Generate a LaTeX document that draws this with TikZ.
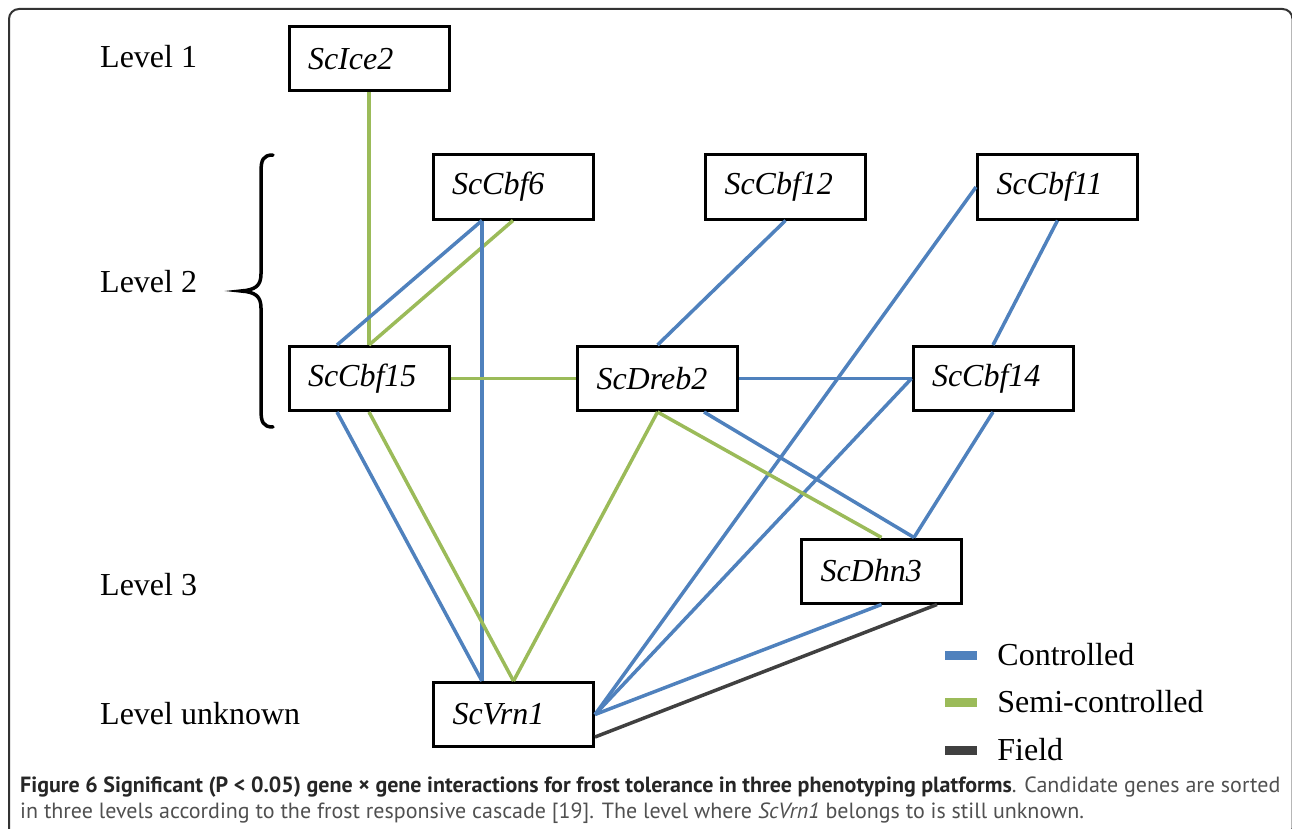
\documentclass[tikz,border=0pt]{standalone}
\usepackage{fontspec}
\setmainfont{Liberation Serif}
\newfontfamily\capfont{PT Sans}
\usetikzlibrary{positioning}
\usetikzlibrary{calc}
\definecolor{ctrlblue}{RGB}{79,129,189}
\definecolor{semigreen}{RGB}{155,187,89}
\definecolor{fieldgray}{RGB}{64,64,64}
\definecolor{capgray}{RGB}{80,80,80}

\begin{document}
\begin{tikzpicture}[x=1pt,y=-1pt,
	gene/.style={rectangle,draw,line width=3pt,minimum width=160pt,minimum height=64pt,text width=122pt,inner xsep=19pt,align=left,font=\fontsize{32}{38}\selectfont\itshape},
	lvl/.style={anchor=west,inner sep=0pt,font=\fontsize{32}{38}\selectfont},
	ctrl/.style={draw=ctrlblue,line width=3.5pt},
	semi/.style={draw=semigreen,line width=3.5pt},
	fld/.style={draw=fieldgray,line width=3.5pt},
	swatch/.style={rectangle,inner sep=0pt,minimum width=32pt,minimum height=9pt},
	legtext/.style={inner sep=0pt,font=\fontsize{32}{38}\selectfont}]
	
	\useasboundingbox (0,0) rectangle (1292,829);
	\draw[line width=2pt,draw=black!80,rounded corners=10pt] (9,9) rectangle (1292.5,838);
	
	% levels
	\node[lvl] (lvlone) at (100,57) {Level 1};
	\node[lvl] (lvltwo) at (100,282) {Level 2};
	\node[lvl] (lvlthree) at (100,585) {Level 3};
	\node[lvl] (lvlunk) at (100,714) {Level unknown};
	\draw[line width=3.5pt,line cap=round] (273,155) .. controls (263,155) and (261,160) .. (261,172) -- (261,274) .. controls (261,286) and (255,290) .. (241,291) .. controls (255,292) and (261,296) .. (261,308) -- (261,410) .. controls (261,422) and (263,427) .. (273,427);
	
	% genes
	\node[gene] (ice) at (369,59) {ScIce2};
	\node[gene] (cbfsix) at (513,187) {ScCbf6};
	\node[gene] (cbftwelve) at (785.5,187) {ScCbf12};
	\node[gene] (cbfeleven) at (1057.5,187) {ScCbf11};
	\node[gene] (cbffifteen) at (369,378.5) {ScCbf15};
	\node[gene] (dreb) at (657.5,378.5) {ScDreb2};
	\node[gene] (cbffourteen) at (993,378.5) {ScCbf14};
	\node[gene] (dhn) at (881.5,571) {ScDhn3};
	\node[gene] (vrn) at (513.5,714.5) {ScVrn1};
	
	% interactions
	\draw[semi] (ice.south) -- (cbffifteen.north);
	\draw[ctrl] ($(cbfsix.south)+(-31,0)$) -- ($(cbffifteen.north)+(-32,0)$);
	\draw[semi] (cbfsix.south) -- (cbffifteen.north);
	\draw[ctrl] ($(cbfsix.south)+(-31,0)$) -- ($(vrn.north)+(-31.5,0)$);
	\draw[semi] (cbffifteen.east) -- (dreb.west);
	\draw[ctrl] (dreb.north) -- (cbftwelve.south);
	\draw[ctrl] (dreb.east) -- (cbffourteen.west);
	\draw[ctrl] (cbfeleven.west) -- (vrn.east);
	\draw[ctrl] (cbfeleven.south) -- (cbffourteen.north);
	\draw[ctrl] (cbffourteen.west) -- (vrn.east);
	\draw[ctrl] (cbffourteen.south) -- ($(dhn.north)+(32.5,0)$);
	\draw[ctrl] ($(dreb.south)+(46.5,0)$) -- ($(dhn.north)+(32.5,0)$);
	\draw[semi] (dreb.south) -- (dhn.north);
	\draw[semi] (dreb.south) -- (vrn.north);
	\draw[ctrl] ($(cbffifteen.south)+(-32,0)$) -- ($(vrn.north)+(-31.5,0)$);
	\draw[semi] (cbffifteen.south) -- (vrn.north);
	\draw[ctrl] (dhn.south) -- (vrn.east);
	\draw[fld] ($(dhn.south)+(55.5,0)$) -- ($(vrn.east)+(0,22.5)$);
	
	% legend
	\node[swatch,fill=ctrlblue] (swctrl) at (961,655) {};
	\node[legtext,right=20pt of swctrl] (lgctrl) {Controlled};
	\node[swatch,fill=semigreen] (swsemi) at (961,702) {};
	\node[legtext,right=20pt of swsemi] (lgsemi) {Semi-controlled};
	\node[swatch,fill=fieldgray] (swfld) at (961,750) {};
	\node[legtext,right=20pt of swfld] (lgfld) {Field};
	
	% caption
	\node[anchor=west,inner sep=0pt,font=\capfont\fontsize{22}{26}\selectfont] (capone) at (20,787) {\textbf{\color{black!85}Figure 6 Significant (P < 0.05) gene × gene interactions for frost tolerance in three phenotyping platforms}\textcolor{capgray}{. Candidate genes are sorted}};
	\node[anchor=west,inner sep=0pt,font=\capfont\fontsize{22}{26}\selectfont,text=capgray] (captwo) at (20,813) {in three levels according to the frost responsive cascade [19]. The level where \textit{ScVrn1} belongs to is still unknown.};
\end{tikzpicture}
\end{document}
